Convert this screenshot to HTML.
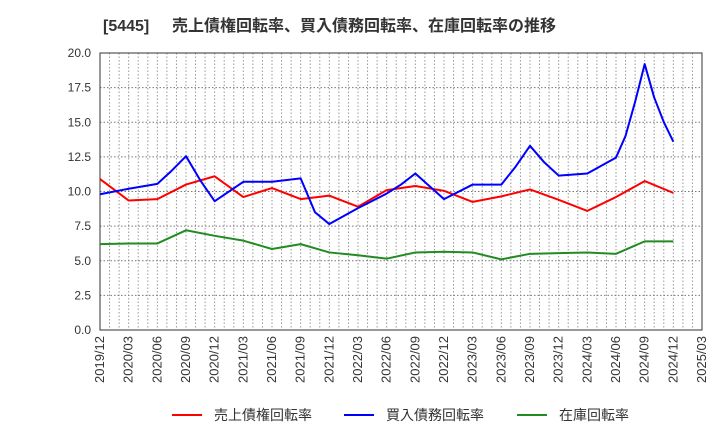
<!DOCTYPE html>
<html><head><meta charset="utf-8"><style>
body{margin:0;background:#fff;width:720px;height:440px;overflow:hidden;font-family:"Liberation Sans","Noto Sans CJK JP",sans-serif}
</style></head><body>
<svg id="c" width="720" height="440" xmlns="http://www.w3.org/2000/svg">
<g font-weight="bold" fill="#333" font-family="Liberation Sans, Noto Sans CJK JP, sans-serif">
<text x="103" y="31" font-size="16">[5445]</text>
<text x="172" y="31" font-size="16">売上債権回転率、買入債務回転率、在庫回転率の推移</text>
</g>
<g id="grid"></g><g id="axes"></g><g id="series"></g>
<g font-size="14" fill="#333" font-family="Liberation Sans, Noto Sans CJK JP, sans-serif">
<line x1="172" y1="415" x2="202" y2="415" stroke="#ff0000" stroke-width="2"/>
<text x="214" y="420">売上債権回転率</text>
<line x1="344" y1="415" x2="374" y2="415" stroke="#0000ff" stroke-width="2"/>
<text x="386" y="420">買入債務回転率</text>
<line x1="517" y1="415" x2="547" y2="415" stroke="#228b22" stroke-width="2"/>
<text x="559" y="420">在庫回転率</text>
</g>
</svg>
<script>
const xLabels=["2019/12","2020/03","2020/06","2020/09","2020/12","2021/03","2021/06","2021/09","2021/12","2022/03","2022/06","2022/09","2022/12","2023/03","2023/06","2023/09","2023/12","2024/03","2024/06","2024/09","2024/12","2025/03"];
const yTicks=[0,2.5,5,7.5,10,12.5,15,17.5,20];
const redX=[0,1,2,3,4,5,6,7,8,9,10,11,12,13,14,15,16,17,18,19,20];
const redY=[10.9,9.35,9.45,10.5,11.1,9.6,10.25,9.45,9.7,8.9,10.1,10.4,10.05,9.25,9.65,10.15,9.4,8.6,9.6,10.75,9.9];
const blueX=[0,1,2,2.5,3,3.5,4,5,6,7,7.5,8,9,10,10.5,11,12,13,14,14.5,15,15.5,16,17,18,18.33,18.67,19,19.33,19.67,20];
const blueY=[9.8,10.2,10.55,11.5,12.55,10.8,9.3,10.7,10.7,10.95,8.5,7.65,8.8,9.85,10.5,11.3,9.45,10.5,10.5,11.8,13.3,12.1,11.15,11.3,12.45,14.0,16.5,19.2,16.8,15.0,13.6];
const greenX=[0,1,2,3,4,5,6,7,8,9,10,11,12,13,14,15,16,17,18,19,20];
const greenY=[6.2,6.25,6.25,7.2,6.8,6.45,5.85,6.2,5.6,5.4,5.15,5.6,5.65,5.6,5.1,5.5,5.55,5.6,5.5,6.4,6.4];
const L=100,R=702,T=53,B=330;
const sx=i=>L+(R-L)*i/21, sy=v=>B-(B-T)*v/20;
const NS="http://www.w3.org/2000/svg";
function mk(tag,attrs,parent){const e=document.createElementNS(NS,tag);for(const k in attrs)e.setAttribute(k,attrs[k]);parent.appendChild(e);return e;}
const grid=document.getElementById('grid'),axes=document.getElementById('axes'),ser=document.getElementById('series');
for(let m=1;m<63;m++){const x=L+(R-L)*m/63;const l=mk('line',{x1:x,x2:x,y1:T,y2:B,stroke:'#999','stroke-dasharray':'1.5,2','stroke-width':1},grid);

}
yTicks.forEach(v=>{const y=sy(v);
if(v>0&&v<20){const l=mk('line',{x1:L,x2:R,y1:y,y2:y,stroke:'#777','stroke-dasharray':'1.5,2','stroke-width':1},grid);

}
const t=mk('text',{x:L-9,y:y+4,'text-anchor':'end','font-size':12,fill:'#333'},axes);t.textContent=v.toFixed(1);

});
xLabels.forEach((s,i)=>{const x=sx(i);const t=mk('text',{x:0,y:0,transform:`translate(${x+4},${B+6}) rotate(-90)`,'text-anchor':'end','font-size':13,fill:'#333'},axes);t.textContent=s;

});
const fr=mk('rect',{x:L,y:T,width:R-L,height:B-T,fill:'none',stroke:'#333','stroke-width':1},axes);


function line(xs,ys,color,name){const p=mk('polyline',{points:xs.map((x,i)=>sx(x)+','+sy(ys[i])).join(' '),fill:'none',stroke:color,'stroke-width':2,'stroke-linejoin':'round'},ser);

}
line(greenX,greenY,'#228b22','inventory-turnover-line');
line(redX,redY,'#ff0000','receivables-turnover-line');
line(blueX,blueY,'#0000ff','payables-turnover-line');
</script>
</body></html>
